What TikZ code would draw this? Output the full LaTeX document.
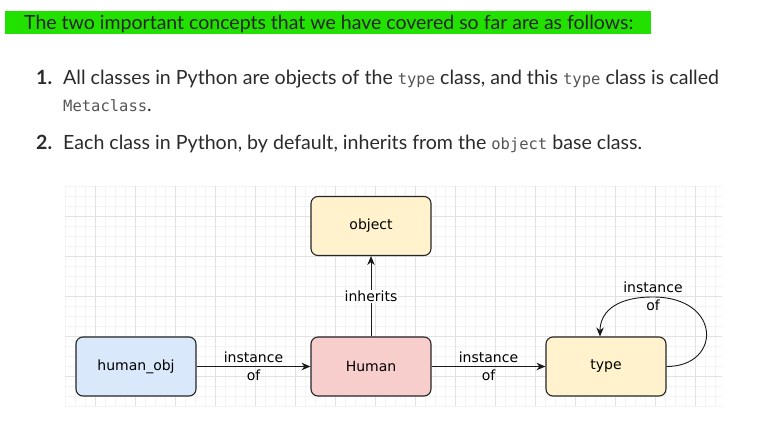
\documentclass[tikz,border=0pt]{standalone}
\usepackage{fontspec}
\setmainfont{Lato}
\newfontfamily\codefont{DejaVu Sans Mono}
\newfontfamily\sketchfont{DejaVu Sans}
\usetikzlibrary{arrows.meta}
\definecolor{hlgreen}{HTML}{22E000}
\definecolor{bodytext}{HTML}{2B2B2B}
\definecolor{codegray}{HTML}{555555}
\definecolor{gridminor}{HTML}{F3F3F3}
\definecolor{gridmajor}{HTML}{E2E2E2}
\definecolor{blueFill}{HTML}{DAE8FC}
\definecolor{redFill}{HTML}{F8CECC}
\definecolor{yellowFill}{HTML}{FFF2CC}
\newcommand{\code}[1]{{\codefont\fontsize{15.5}{17}\selectfont\color{codegray}#1}}
\begin{document}
\begin{tikzpicture}[x=1pt,y=-1pt,
  bodyline/.style={anchor=base west, inner sep=0pt, text=bodytext, font=\fontsize{19.6}{22}\selectfont},
  numlabel/.style={anchor=base west, inner sep=0pt, text=bodytext, font=\bfseries\fontsize{19.6}{22}\selectfont},
  classbox/.style={draw=black!85, line width=1.1pt, rounded corners=7pt,
    minimum width=120pt, minimum height=59pt, inner sep=0pt,
    font=\sketchfont\fontsize{14}{16}\selectfont},
  edgelabel/.style={inner sep=1pt, align=center, font=\sketchfont\fontsize{14}{18}\selectfont},
  link/.style={draw=black!90, line width=0.9pt, -{Stealth[length=9pt,width=7.5pt]}}]
\useasboundingbox (0,0) rectangle (760,434);
\fill[white] (0,0) rectangle (760,434);

% highlighted heading
\fill[hlgreen] (5,11) rectangle (651,34);
\node[anchor=base west, inner sep=0pt, text=black!85, font=\fontsize{19.5}{21}\selectfont] (head) at (24,29)
  {The two important concepts that we have covered so far are as follows:};

% numbered list
\node[numlabel] (n1) at (36,84) {1.};
\node[bodyline] (l1) at (63,84) {All classes in Python are objects of the \code{type} class, and this \code{type} class is called};
\node[anchor=base west, inner sep=0pt] (l1b) at (63,111) {\code{Metaclass}{\color{bodytext}\fontsize{19.6}{22}\selectfont.}};
\node[numlabel] (n2) at (36,149) {2.};
\node[bodyline] (l2) at (63,149) {Each class in Python, by default, inherits from the \code{object} base class.};

% background grid
\foreach \x in {65,75,...,715} \draw[gridminor, line width=0.6pt] (\x,186) -- (\x,406);
\foreach \y in {186,196,...,406} \draw[gridminor, line width=0.6pt] (65,\y) -- (722,\y);
\foreach \x in {95,135,...,695} \draw[gridmajor, line width=0.7pt] (\x,186) -- (\x,406);
\foreach \y in {216,256,...,376} \draw[gridmajor, line width=0.7pt] (65,\y) -- (722,\y);

% classes
\node[classbox, fill=blueFill] (hobj) at (136,366.5) {human\_obj};
\node[classbox, fill=redFill] (human) at (371,366.5) {Human};
\node[classbox, fill=yellowFill] (object) at (371,226) {object};
\node[classbox, fill=yellowFill] (type) at (606,366.5) {type};

% relations
\draw[link] (hobj) -- node[edgelabel] {instance\\of} (human);
\draw[link] (human) -- node[edgelabel] {instance\\of} (type);
\draw[link] (human) -- node[edgelabel, fill=white, pos=0.5] {inherits} (object);
\draw[link] (type.east) .. controls (722,366.5) and (722,297) .. (653,297)
  coordinate (looptop) .. controls (612,297) and (600,315) .. ([xshift=-6pt]type.north);
\node[edgelabel] (looplabel) at (653,296) {instance\\of};
\end{tikzpicture}
\end{document}
